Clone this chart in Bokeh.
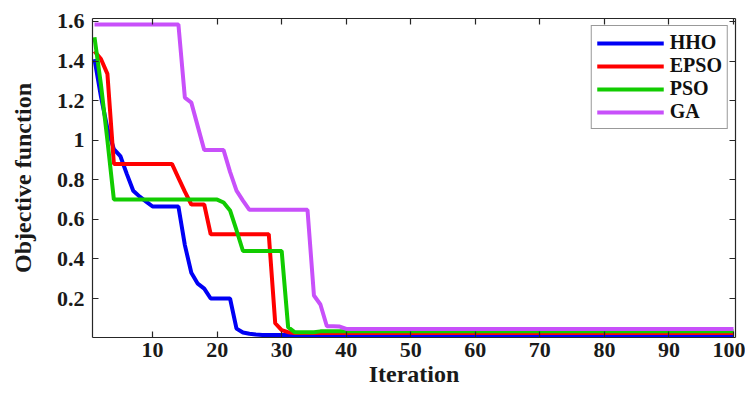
from bokeh.plotting import figure
from bokeh.models import Range1d, FixedTicker, LinearAxis
from bokeh.embed import file_html
from bokeh.resources import INLINE

# ---------------- data ----------------
iterations = list(range(1, 101))

hho = ([1.41, 1.22, 1.06, 0.955, 0.92, 0.83, 0.745, 0.715, 0.69, 0.665,
        0.665, 0.665, 0.665, 0.665, 0.47, 0.33, 0.275, 0.25, 0.2, 0.2,
        0.2, 0.2, 0.048, 0.028, 0.022, 0.018] + [0.016] * 74)

epso = ([1.45, 1.41, 1.335, 0.88, 0.88, 0.88, 0.88, 0.88, 0.88, 0.88,
         0.88, 0.88, 0.88, 0.81, 0.74, 0.675, 0.675, 0.675, 0.525, 0.525,
         0.525, 0.525, 0.525, 0.525, 0.525, 0.525, 0.525, 0.525, 0.075, 0.04,
         0.03] + [0.026] * 69)

pso = ([1.52, 1.28, 1.0, 0.70, 0.70, 0.70, 0.70, 0.70, 0.70, 0.70,
        0.70, 0.70, 0.70, 0.70, 0.70, 0.70, 0.70, 0.70, 0.70, 0.70,
        0.685, 0.645, 0.545, 0.44, 0.44, 0.44, 0.44, 0.44, 0.44, 0.44,
        0.055, 0.03, 0.03, 0.03, 0.03] + [0.034] * 65)

ga = ([1.585] * 14 +
      [1.215, 1.19, 1.07, 0.95, 0.95, 0.95, 0.95, 0.84, 0.745, 0.695,
       0.648, 0.648, 0.648, 0.648, 0.648, 0.648, 0.648, 0.648, 0.648, 0.648,
       0.215, 0.17, 0.06, 0.06, 0.058, 0.046] + [0.046] * 60)

series_names = ["HHO", "EPSO", "PSO", "GA"]
series_values = [hho, epso, pso, ga]
series_colors = ["#0000F5", "#FF0000", "#11CC00", "#C850FA"]

x_ticks = [10, 20, 30, 40, 50, 60, 70, 80, 90, 100]
x_tick_labels = ["10", "20", "30", "40", "50", "60", "70", "80", "90", "100"]
y_ticks = [0.2, 0.4, 0.6, 0.8, 1.0, 1.2, 1.4, 1.6]
y_tick_labels = ["0.2", "0.4", "0.6", "0.8", "1", "1.2", "1.4", "1.6"]

# ---------------- figure ----------------
FONT = "Liberation Serif"
AX = "#262626"

p = figure(width=745, height=394, output_backend="svg", toolbar_location=None,
           x_range=Range1d(0.69, 100.31), y_range=Range1d(0.003, 1.615),
           min_border_left=92, min_border_right=10, min_border_top=18,
           min_border_bottom=57)
p.outline_line_color = None
p.grid.visible = False
p.background_fill_color = "white"

for name, vals, col in zip(series_names, series_values, series_colors):
    p.line(iterations, vals, line_color=col, line_width=4, legend_label=name)

def style_axis(ax, show_labels):
    ax.axis_line_color = AX
    ax.axis_line_width = 1.2
    ax.major_tick_line_color = AX
    ax.major_tick_line_width = 1.2
    ax.major_tick_in = 6
    ax.major_tick_out = 0
    ax.minor_tick_line_color = None
    ax.major_label_text_font = FONT
    ax.major_label_text_font_style = "bold"
    ax.major_label_text_color = "#1a1a1a"
    ax.axis_label_text_font = FONT
    ax.axis_label_text_font_style = "bold"
    ax.axis_label_text_color = "#1a1a1a"
    if show_labels:
        ax.major_label_text_font_size = "22px"
        ax.axis_label_text_font_size = "24px"
    else:
        ax.major_label_text_font_size = "0px"

xa = p.xaxis[0]
xa.ticker = FixedTicker(ticks=x_ticks)
xa.major_label_overrides = dict(zip(x_ticks, x_tick_labels))
xa.axis_label = "Iteration"
style_axis(xa, True)
xa.major_label_standoff = 5
xa.axis_label_standoff = 1

ya = p.yaxis[0]
ya.ticker = FixedTicker(ticks=y_ticks)
ya.major_label_overrides = dict(zip(y_ticks, y_tick_labels))
ya.axis_label = "Objective function"
style_axis(ya, True)
ya.major_label_standoff = 8
ya.axis_label_standoff = 18

top = LinearAxis(ticker=FixedTicker(ticks=x_ticks),
                 major_label_overrides={t: "" for t in x_ticks})
style_axis(top, False)
p.add_layout(top, "above")

right = LinearAxis(ticker=FixedTicker(ticks=y_ticks),
                   major_label_overrides={t: "" for t in y_ticks})
style_axis(right, False)
p.add_layout(right, "right")

lg = p.legend[0]
lg.location = "top_right"
lg.margin = 7
lg.padding = 5
lg.spacing = 0
lg.glyph_width = 67
lg.glyph_height = 20
lg.label_height = 20
lg.label_standoff = 6
lg.label_text_font = FONT
lg.label_text_font_style = "bold"
lg.label_text_font_size = "20px"
lg.label_text_color = "#111111"
lg.border_line_color = "#333333"
lg.border_line_width = 1
lg.background_fill_alpha = 1.0

open("out.html", "w").write(file_html(p, INLINE))
